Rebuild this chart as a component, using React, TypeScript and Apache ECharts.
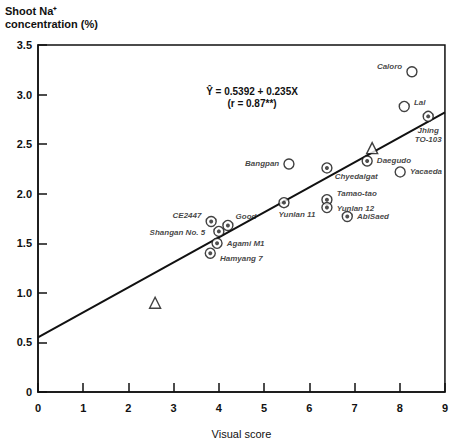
import React, { useEffect, useRef } from "react";
import * as echarts from "echarts";

const xTicks = [0, 1, 2, 3, 4, 5, 6, 7, 8, 9];
const yTicks = [0, 0.5, 1.0, 1.5, 2.0, 2.5, 3.0, 3.5];

const cultivars = [
  "Caloro", "Lal", "Jhing\nTO-103", "Daegudo", "Yacaeda", "Bangpan",
  "Chyedalgat", "Yunlan 11", "Tamao-tao", "Yunlan 12", "AbiSaed",
  "CE2447", "Shangan No. 5", "Good", "Agami M1", "Hamyang 7",
];
const visualScore = [8.27, 8.1, 8.63, 7.28, 8.01, 5.55, 6.39, 5.44, 6.39, 6.39, 6.84, 3.83, 4.0, 4.2, 3.96, 3.81];
const shootNa = [3.23, 2.88, 2.78, 2.33, 2.22, 2.3, 2.26, 1.91, 1.94, 1.86, 1.77, 1.72, 1.62, 1.68, 1.5, 1.4];
const marked = [false, false, true, true, false, false, true, true, true, true, true, true, true, true, true, true];

const triangleX = [7.39, 2.59];
const triangleY = [2.46, 0.9];

const lineX = [0, 9];
const lineY = [0.55, 2.82];

const equationText = "Ŷ = 0.5392 + 0.235X";
const rText = "(r = 0.87**)";

// label placement (style only)
const labelPlace: Array<[string, number, number]> = [
  ["left", 0, -5],
  ["right", 0, -4],
  ["bottom", 0, 0],
  ["right", 0, 0],
  ["right", 0, 0],
  ["left", 0, 0],
  ["right", -2, 9],
  ["bottom", 13, -2],
  ["right", 0, -6],
  ["right", 0, 1],
  ["right", 0, 0],
  ["left", 0, -6],
  ["left", -4, 1],
  ["right", -2, -9],
  ["right", 0, 0],
  ["right", 0, 5],
];

const FONT = "Liberation Sans, Arial, sans-serif";

export default function App() {
  const ref = useRef<HTMLDivElement>(null);
  useEffect(() => {
    if (!ref.current) return;
    const chart = echarts.init(ref.current, null, { renderer: "svg" });
    const pts = cultivars.map((name, i) => ({
      name,
      value: [visualScore[i], shootNa[i]],
      label: {
        show: true,
        position: labelPlace[i][0],
        offset: [labelPlace[i][1], labelPlace[i][2]],
        formatter: name,
      },
    }));
    const dots = cultivars
      .map((name, i) => ({ name, value: [visualScore[i], shootNa[i]] }))
      .filter((_, i) => marked[i]);
    chart.setOption({
      animation: false,
      backgroundColor: "#fff",
      grid: {
        left: 38,
        right: 6,
        top: 45,
        bottom: 49,
        show: true,
        borderColor: "#111",
        borderWidth: 1.5,
        backgroundColor: "transparent",
      },
      xAxis: {
        type: "value",
        min: 0,
        max: 9,
        interval: 1,
        splitLine: { show: false },
        axisLine: { lineStyle: { color: "#111", width: 1.5 } },
        axisTick: { inside: true, length: 9, lineStyle: { color: "#111", width: 1.5 } },
        axisLabel: {
          color: "#111",
          fontFamily: FONT,
          fontWeight: "bold",
          fontSize: 11,
          margin: 10,
          formatter: (v: number) => String(v),
        },
        name: "Visual score",
        nameLocation: "middle",
        nameGap: 36,
        nameTextStyle: { color: "#111", fontFamily: FONT, fontSize: 11 },
      },
      yAxis: {
        type: "value",
        min: 0,
        max: 3.5,
        interval: 0.5,
        splitLine: { show: false },
        axisLine: { show: true, lineStyle: { color: "#111", width: 1.5 } },
        axisTick: { show: true, inside: true, length: 9, lineStyle: { color: "#111", width: 1.5 } },
        axisLabel: {
          color: "#111",
          fontFamily: FONT,
          fontWeight: "bold",
          fontSize: 11,
          margin: 6,
          formatter: (v: number) => (v === 0 ? "0" : v.toFixed(1)),
        },
      },
      graphic: [
        {
          type: "text",
          left: 5,
          top: 4,
          style: {
            text: "Shoot Na⁺\nconcentration (%)",
            fill: "#111",
            font: `bold 11px ${FONT}`,
            lineHeight: 13,
          },
        },
        {
          type: "text",
          x: 252,
          y: 97,
          style: {
            text: equationText + "\n" + rText,
            fill: "#111",
            font: `bold 10px ${FONT}`,
            align: "center",
            verticalAlign: "middle",
            lineHeight: 12,
          },
        },
      ],
      series: [
        {
          type: "line",
          data: lineX.map((x, i) => [x, lineY[i]]),
          symbol: "none",
          lineStyle: { color: "#111", width: 2 },
          z: 1,
        },
        {
          type: "scatter",
          data: pts,
          symbol: "circle",
          symbolSize: 10,
          itemStyle: { color: "#fff", borderColor: "#111", borderWidth: 1.4 },
          label: {
            color: "#111",
            fontFamily: FONT,
            fontWeight: "bold",
            fontStyle: "italic",
            fontSize: 8,
            distance: 4,
            lineHeight: 9,
          },
          z: 3,
        },
        {
          type: "scatter",
          data: dots,
          symbol: "circle",
          symbolSize: 4,
          itemStyle: { color: "#222" },
          silent: true,
          z: 4,
        },
        {
          type: "scatter",
          data: triangleX.map((x, i) => [x, triangleY[i]]),
          symbol: "triangle",
          symbolSize: 11,
          itemStyle: { color: "#fff", borderColor: "#111", borderWidth: 1.4 },
          z: 3,
        },
      ],
    });
    return () => chart.dispose();
  }, []);
  return (
    <div
      ref={ref}
      style={{ position: "absolute", left: 0, top: 0, width: 451, height: 444 }}
    />
  );
}
